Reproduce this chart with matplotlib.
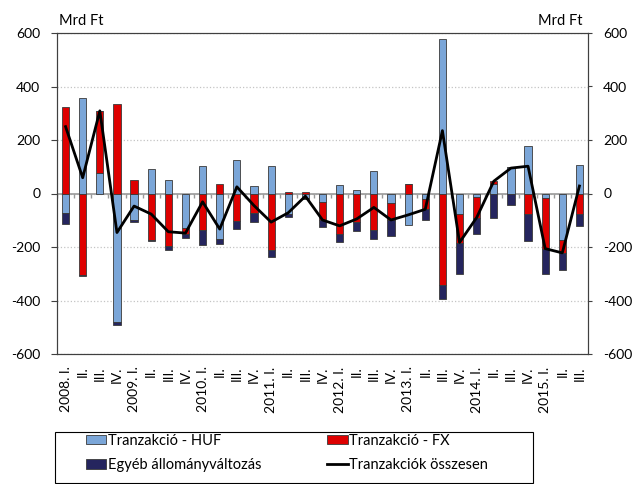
import numpy as np
import matplotlib
matplotlib.use('Agg')
import matplotlib.pyplot as plt
from matplotlib.patches import Rectangle

plt.rcParams['font.family'] = ['Lato', 'DejaVu Sans']
plt.rcParams['axes.unicode_minus'] = False

# Negyedévek
years = [2008, 2009, 2010, 2011, 2012, 2013, 2014, 2015]
quarters = ['I.', 'II.', 'III.', 'IV.']
labels = []
for y in years:
    for i, q in enumerate(quarters):
        labels.append(f'{y}. {q}' if i == 0 else q)
labels = labels[:31]

# Adatok (Mrd Ft)
huf = [-74, 358, 77, -482, -99, 93, 52, -130, 104, -170, 126, 27, 102, -75, -16, -30,
       31, 12, 84, -36, -119, -22, 578, -78, -12, 34, 99, 178, -15, -172, 106]
fx = [324, -303, 232, 333, 49, -173, -198, -21, -136, 35, -104, -72, -210, 4, 6, -69,
      -151, -106, -136, -63, 37, -37, -343, -107, -78, 12, 0, -78, -191, -50, -78]
egyeb = [-40, -5, 0, -10, -8, -6, -12, -16, -58, -19, -29, -35, -27, -14, -4, -27,
         -31, -35, -33, -60, 0, -41, -52, -115, -61, -90, -42, -99, -94, -65, -42]
osszesen = [250, 59, 309, -146, -47, -77, -143, -148, -31, -133, 25, -45, -107, -72, -10, -99,
            -121, -95, -52, -99, -80, -59, 235, -183, -90, 46, 95, 102, -206, -222, 28]

yticks = [600, 400, 200, 0, -200, -400, -600]

fig = plt.figure(figsize=(6.35, 4.84), dpi=100)
ax = fig.add_axes([57/635, 1-354/484, (588-57)/635, (354-33)/484])

x = np.arange(len(labels))
pos = np.zeros(len(x))
neg = np.zeros(len(x))
series = [(huf, '#7BA6D8', 'Tranzakció - HUF'),
          (fx, '#DE0000', 'Tranzakció - FX'),
          (egyeb, '#25255E', 'Egyéb állományváltozás')]
for vals, color, name in series:
    v = np.array(vals, dtype=float)
    bottom = np.where(v >= 0, pos, neg)
    ax.bar(x, v, 0.42, bottom=bottom, color=color, edgecolor='#3a3a3a',
           linewidth=0.6, label=name, zorder=3)
    pos += np.where(v > 0, v, 0)
    neg += np.where(v < 0, v, 0)

ax.plot(x, osszesen, color='black', lw=2, zorder=4, label='Tranzakciók összesen')

# zéró vonal és kategória jelölők
ax.axhline(0, color='#9a9a9a', lw=1.2, zorder=2)
ax.vlines(np.arange(len(x) + 1) - 0.5, -18, 0, color='#9a9a9a', lw=1.0, zorder=2)

ax.set_xlim(-0.5, len(x) - 0.5)
ax.set_ylim(-600, 600)
ax.set_yticks(yticks)
ax.set_yticklabels([str(t) for t in yticks], fontsize=10)
ax.yaxis.grid(True, linestyle=':', color='#c4c4c4', lw=0.9, zorder=0)
ax.set_axisbelow(True)
ax.set_xticks(x)
ax.set_xticklabels(labels, rotation=90, fontsize=10, va='top', ha='center')
ax.tick_params(axis='x', length=0, pad=9)
ax.tick_params(axis='y', direction='out', length=4, width=0.8, color='#404040', pad=8)
for s in ax.spines.values():
    s.set_color('#404040')
    s.set_linewidth(0.8)

ax2 = ax.twinx()
ax2.set_ylim(-600, 600)
ax2.set_yticks(yticks)
ax2.set_yticklabels([str(t) for t in yticks], fontsize=10)
ax2.tick_params(axis='y', direction='out', length=3, width=0.8, color='#404040', pad=8)
for s in ax2.spines.values():
    s.set_color('#404040')
    s.set_linewidth(0.8)

fig.text(59/635, 1-25/484, 'Mrd Ft', fontsize=10.5, ha='left', va='baseline')
fig.text(583/635, 1-25/484, 'Mrd Ft', fontsize=10.5, ha='right', va='baseline')

# jelmagyarázat keretben
fig.patches.append(Rectangle((55/635, 1/484), (533-55)/635, (483-432)/484,
                             transform=fig.transFigure, fill=False,
                             edgecolor='black', lw=0.8))
h, l = ax.get_legend_handles_labels()
order = [1, 3, 2, 0]
leg = fig.legend([h[i] for i in order], [l[i] for i in order], ncol=2,
                 loc='upper left', bbox_to_anchor=(86/635, 1-434/484, (488-86)/635, 0.001),
                 mode='expand', fontsize=10.5, frameon=False,
                 handlelength=1.4, handleheight=0.6,
                 handletextpad=0.1, borderpad=0, labelspacing=0.72,
                 borderaxespad=0)

fig.savefig('out.png', dpi=100)
